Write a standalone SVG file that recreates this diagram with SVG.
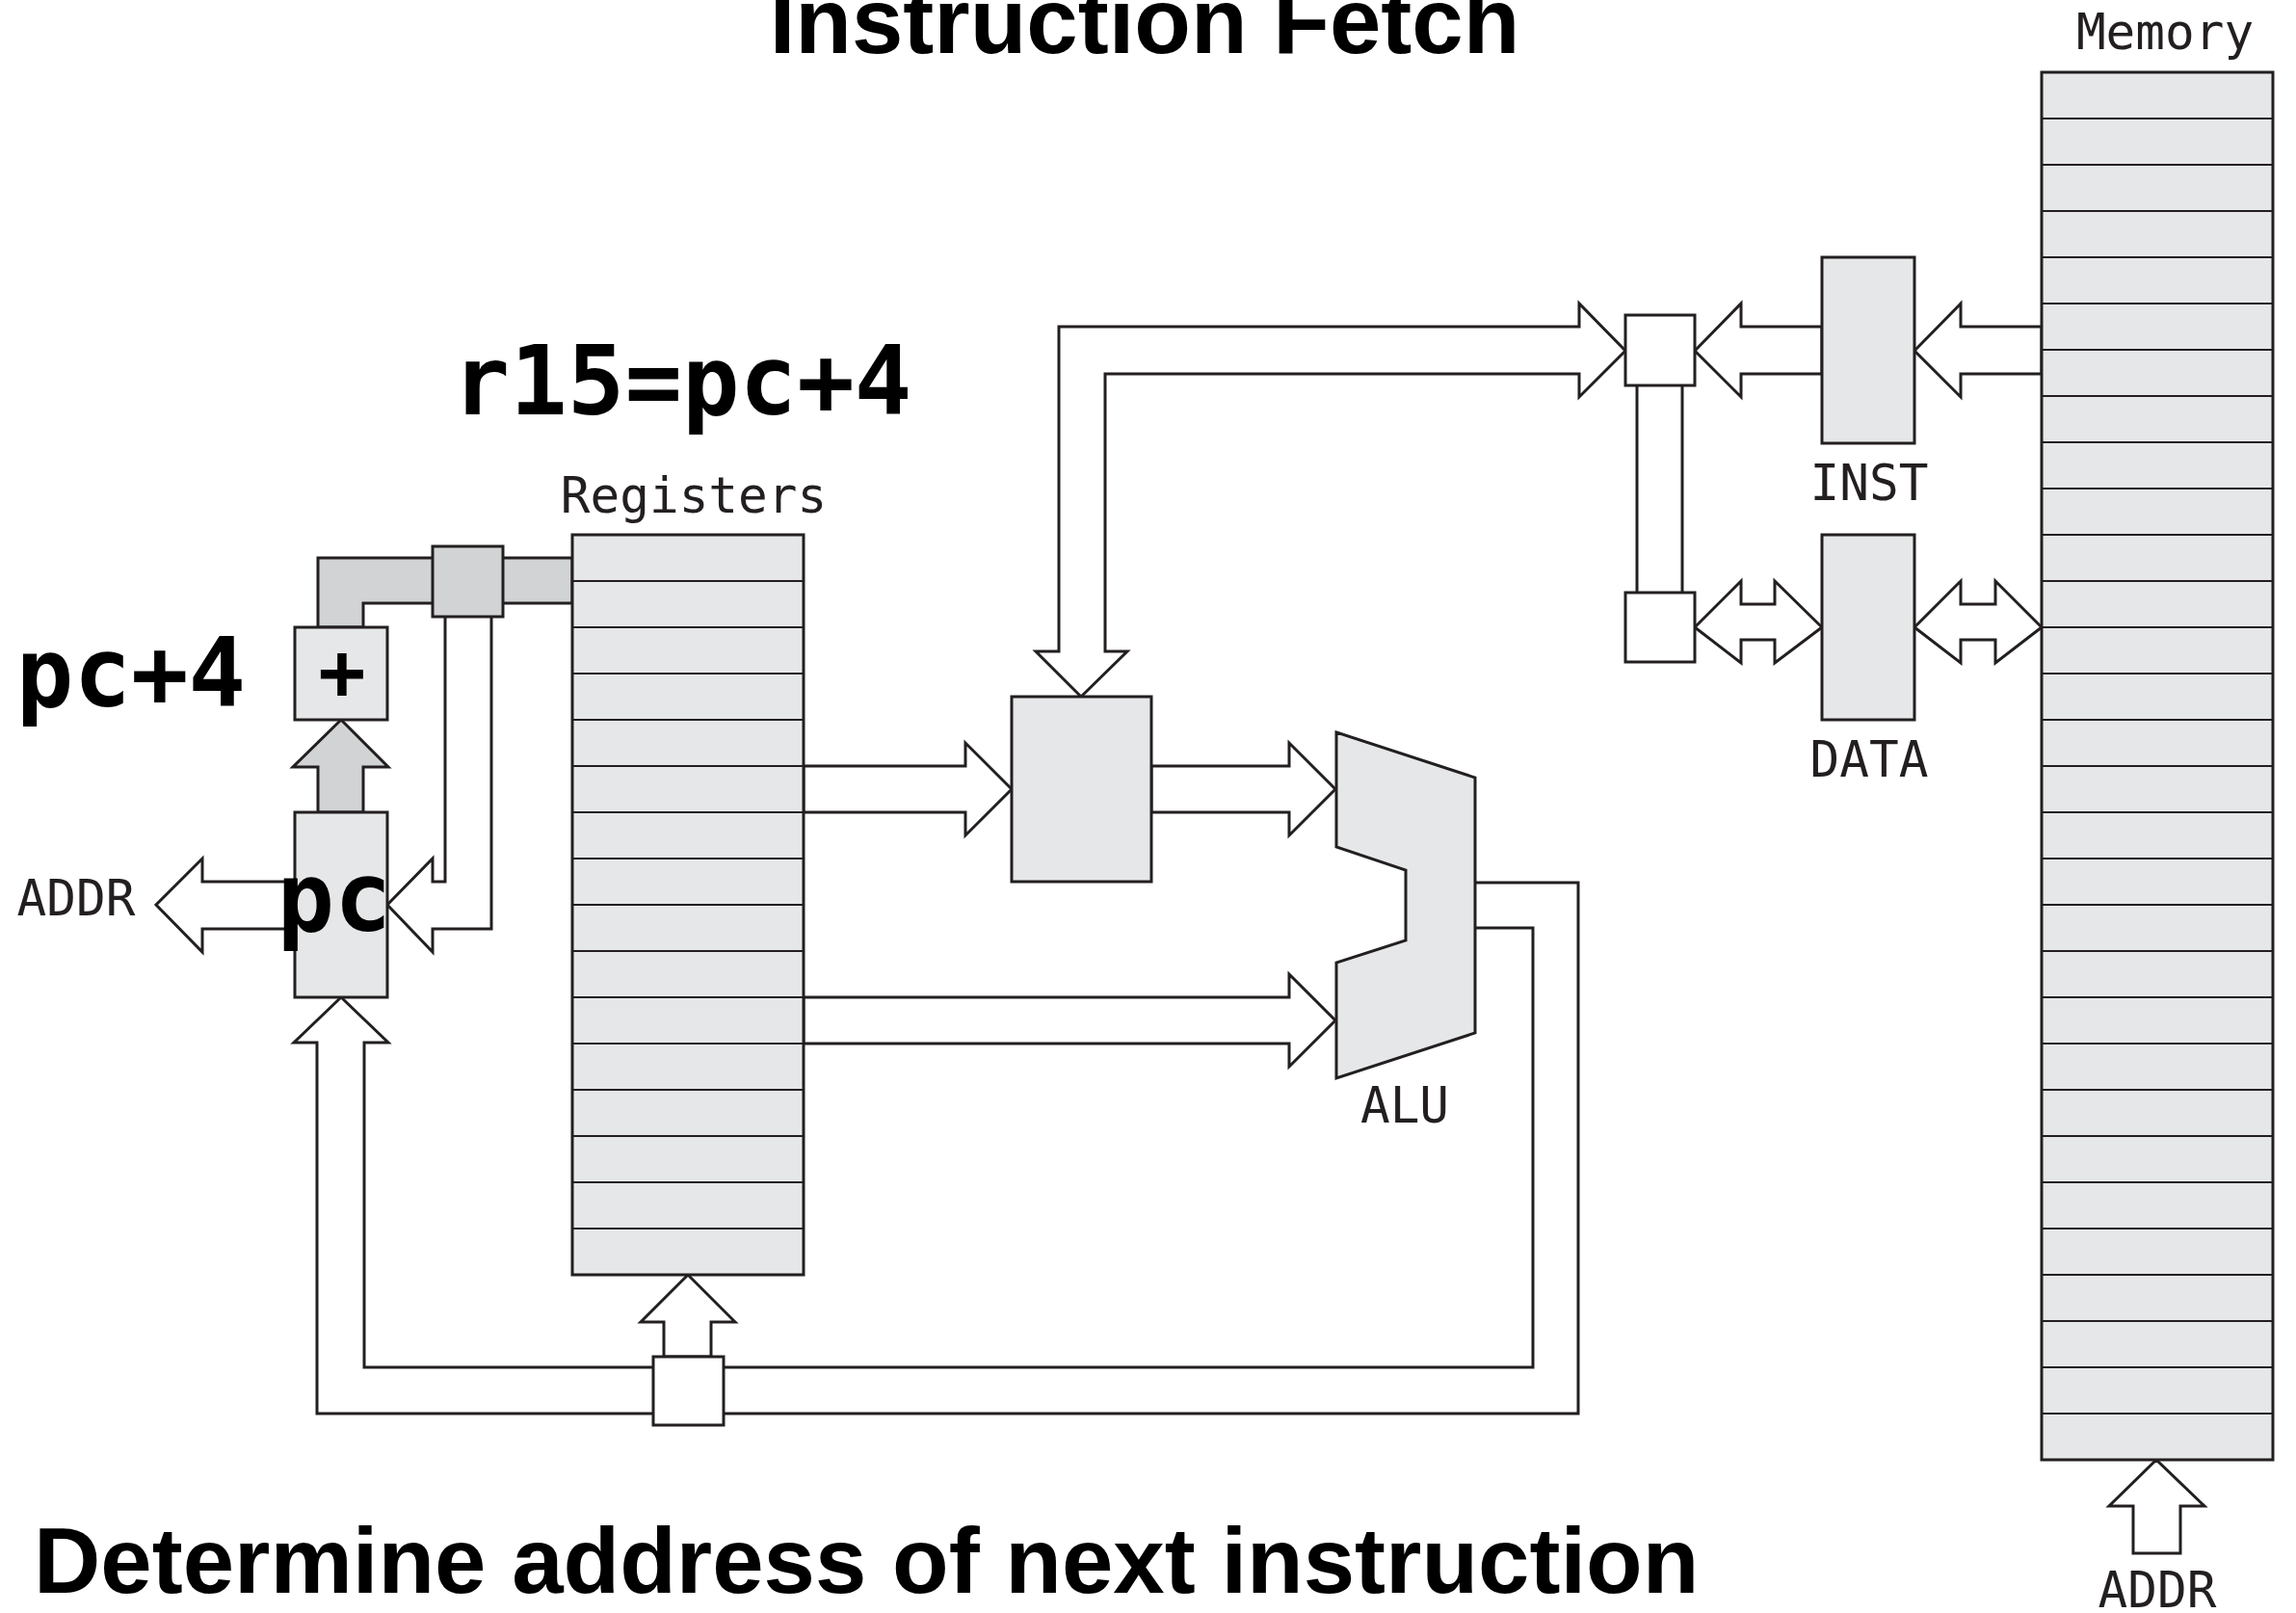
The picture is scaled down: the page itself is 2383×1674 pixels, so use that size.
<svg xmlns="http://www.w3.org/2000/svg" width="2383" height="1674" viewBox="0 0 2383 1674">
<style>
.o{stroke:#231f20;stroke-width:3;stroke-linejoin:miter}
.lt{fill:#e6e7e8}
.dk{fill:#d1d3d4}
.wh{fill:#ffffff}
.nf{fill:none}
.row{stroke:#231f20;stroke-width:2;fill:none}
.lbl{font-family:"DejaVu Sans Mono","Liberation Mono",monospace;font-size:51px;fill:#231f20;text-anchor:middle}
.big{font-family:"DejaVu Sans Mono","Liberation Mono",monospace;font-size:99px;font-weight:bold;fill:#000;text-anchor:middle}
.ttl{font-family:"Liberation Sans",Arial,sans-serif;font-size:96px;font-weight:bold;fill:#000}
</style>
<rect width="2383" height="1674" fill="#fff"/>

<text class="ttl" x="1188" y="55" text-anchor="middle">Instruction Fetch</text>

<g id="connectors">
  <!-- gray pipe from registers to + box -->
  <polygon class="o dk" points="594,579 330,579 330,651 377,651 377,626 594,626"/>
  <!-- gray arrow pc -> + -->
  <polygon class="o dk" points="330,843 330,796 304,796 354,747 403,796 377,796 377,843"/>
  <!-- lines from gray box down to pc -->
  <polyline class="o wh" points="462,640 462,915 449,915 449,891 402,939 449,988 449,964 510,964 510,640"/>
  <!-- ADDR arrow out of pc -->
  <polygon class="o wh" points="306,915 210,915 210,891 162,939 210,988 210,964 306,964"/>
  <!-- registers -> middle box -->
  <polygon class="o wh" points="834,795 1002,795 1002,771 1050,819 1002,867 1002,843 834,843"/>
  <!-- middle box -> ALU -->
  <polygon class="o wh" points="1195,795 1338,795 1338,771 1386,819 1338,867 1338,843 1195,843"/>
  <!-- registers -> ALU lower -->
  <polygon class="o wh" points="834,1035 1338,1035 1338,1011 1386,1059 1338,1107 1338,1083 834,1083"/>
  <!-- big L arrow bus -> middle box -->
  <polygon class="o wh" points="1122,723 1170,676 1147,676 1147,388 1639,388 1639,412 1687,364 1639,315 1639,339 1099,339 1099,676 1075,676"/>
  <!-- INST -> top box -->
  <polygon class="o wh" points="1759,364 1807,315 1807,339 1891,339 1891,388 1807,388 1807,412"/>
  <!-- Memory -> INST -->
  <polygon class="o wh" points="1987,364 2035,315 2035,339 2119,339 2119,388 2035,388 2035,412"/>
  <!-- vertical link between small boxes -->
  <line class="o" x1="1699" y1="400" x2="1699" y2="615"/>
  <line class="o" x1="1746" y1="400" x2="1746" y2="615"/>
  <!-- box <-> DATA -->
  <polygon class="o wh" points="1759,651 1807,603 1807,627 1842,627 1842,603 1891,651 1842,688 1842,664 1807,664 1807,688"/>
  <!-- DATA <-> Memory -->
  <polygon class="o wh" points="1987,651 2035,603 2035,627 2071,627 2071,603 2119,651 2071,688 2071,664 2035,664 2035,688"/>
  <!-- ALU output loop -->
  <polyline class="o nf" points="1531,916 1638,916 1638,1467 751,1467"/>
  <polyline class="o nf" points="1531,963 1591,963 1591,1419 751,1419"/>
  <polyline class="o wh" points="678,1467 329,1467 329,1082 305,1082 354,1035 403,1082 378,1082 378,1419 678,1419"/>
  <!-- bottom box -> registers -->
  <polygon class="o wh" points="689,1408 689,1372 665,1372 714,1323 763,1372 738,1372 738,1408"/>
  <!-- memory ADDR arrow -->
  <polygon class="o wh" points="2238,1515 2288,1563 2263,1563 2263,1612 2214,1612 2214,1563 2189,1563"/>
</g>

<g id="gray-box">
  <rect class="o dk" x="449" y="567" width="73" height="73"/>
</g>

<g id="adder">
  <rect class="o lt" x="306" y="651" width="96" height="96"/>
  <text class="big" x="355" y="726" style="font-size:82px">+</text>
</g>

<g id="pc">
  <rect class="o lt" x="306" y="843" width="96" height="192"/>
  <text class="big" x="347" y="966">pc</text>
</g>

<g id="registers">
  <rect class="o lt" x="594" y="555" width="240" height="768"/>
  <path class="row" d="M594 603H834M594 651H834M594 699H834M594 747H834M594 795H834M594 843H834M594 891H834M594 939H834M594 987H834M594 1035H834M594 1083H834M594 1131H834M594 1179H834M594 1227H834M594 1275H834"/>
  <text class="lbl" x="720" y="532">Registers</text>
</g>

<g id="middle-box">
  <rect class="o lt" x="1050" y="723" width="145" height="192"/>
</g>

<g id="alu">
  <polygon class="o lt" points="1387,760 1531,807 1531,1072 1387,1119 1387,999 1459,976 1459,903 1387,879"/>
  <text class="lbl" x="1458" y="1165">ALU</text>
</g>

<g id="bus-top">
  <rect class="o wh" x="1687" y="327" width="72" height="73"/>
</g>
<g id="bus-bottom">
  <rect class="o wh" x="1687" y="615" width="72" height="72"/>
</g>

<g id="inst">
  <rect class="o lt" x="1891" y="267" width="96" height="193"/>
  <text class="lbl" x="1940" y="519">INST</text>
</g>

<g id="data">
  <rect class="o lt" x="1891" y="555" width="96" height="192"/>
  <text class="lbl" x="1940" y="806">DATA</text>
</g>

<g id="memory">
  <rect class="o lt" x="2119" y="75" width="240" height="1440"/>
  <path class="row" d="M2119 123H2359M2119 171H2359M2119 219H2359M2119 267H2359M2119 315H2359M2119 363H2359M2119 411H2359M2119 459H2359M2119 507H2359M2119 555H2359M2119 603H2359M2119 651H2359M2119 699H2359M2119 747H2359M2119 795H2359M2119 843H2359M2119 891H2359M2119 939H2359M2119 987H2359M2119 1035H2359M2119 1083H2359M2119 1131H2359M2119 1179H2359M2119 1227H2359M2119 1275H2359M2119 1323H2359M2119 1371H2359M2119 1419H2359M2119 1467H2359"/>
  <text class="lbl" x="2247" y="51">Memory</text>
</g>

<g id="bottom-box">
  <rect class="o wh" x="678" y="1408" width="73" height="71"/>
</g>

<g id="labels">
  <text class="big" x="708" y="430">r15=pc+4</text>
  <text class="big" x="136" y="733">pc+4</text>
  <text class="lbl" x="79" y="950">ADDR</text>
  <text class="lbl" x="2239" y="1668">ADDR</text>
  <text class="ttl" x="35" y="1653">Determine address of next instruction</text>
</g>
</svg>
